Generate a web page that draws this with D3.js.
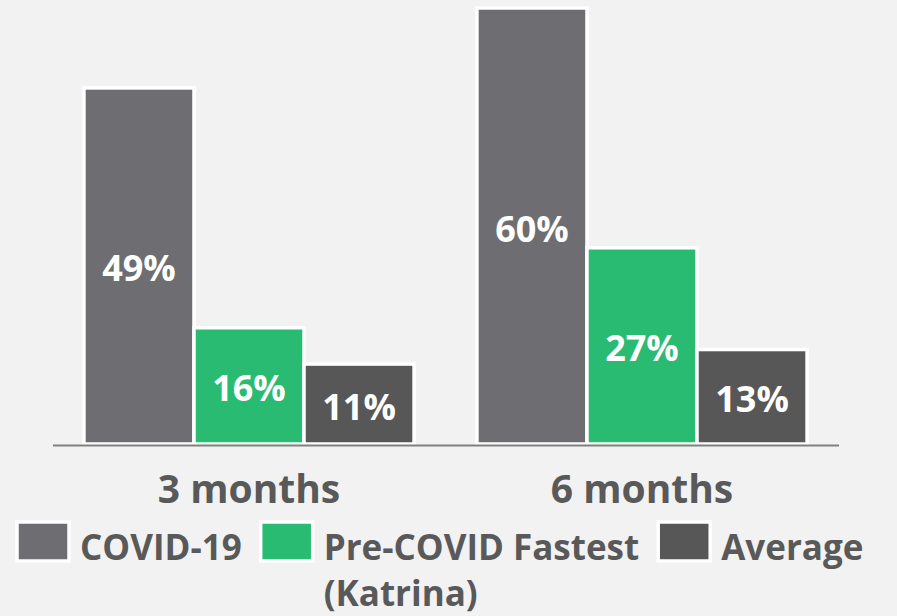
<!DOCTYPE html>
<html>
<head>
<meta charset="utf-8">
<script src="https://cdn.jsdelivr.net/npm/d3@7"></script>
<style>
  html, body { margin: 0; padding: 0; background: #f2f2f2; }
  svg { display: block; }
  text { font-family: "Open Sans", "DejaVu Sans", sans-serif; font-weight: 700; }
</style>
</head>
<body>
<svg id="chart" width="897" height="616"></svg>
<script>
// ---- data ----
const categories = ["3 months", "6 months"];
const seriesNames = ["COVID-19", "Pre-COVID Fastest (Katrina)", "Average"];
const covidValues = [49, 60];
const katrinaValues = [16, 27];
const averageValues = [11, 13];
const seriesColors = ["#6e6e72", "#2abb73", "#575757"];

const seriesValues = [covidValues, katrinaValues, averageValues];

// ---- layout ----
const W = 897, H = 616;
const svg = d3.select("#chart");
svg.append("rect").attr("width", W).attr("height", H).attr("fill", "#f2f2f2");

const baseline = 444;
const y = d3.scaleLinear().domain([0, 60]).range([baseline, 8]);

const x0 = d3.scaleBand().domain(categories).range([52.5, 838.5])
  .paddingInner(0.16).paddingOuter(0.08);
const x1 = d3.scaleBand().domain(seriesNames).range([0, x0.bandwidth()]).padding(0);

const rows = [];
categories.forEach((c, ci) => {
  seriesNames.forEach((s, si) => {
    rows.push({ cat: c, series: s, si, value: seriesValues[si][ci] });
  });
});

const g = svg.append("g");
g.selectAll("rect.bar").data(rows).join("rect")
  .attr("class", "bar")
  .attr("x", d => x0(d.cat) + x1(d.series))
  .attr("y", d => y(d.value))
  .attr("width", x1.bandwidth())
  .attr("height", d => baseline - y(d.value))
  .attr("fill", d => seriesColors[d.si])
  .attr("stroke", "#ffffff")
  .attr("stroke-width", 3.5);

g.selectAll("text.val").data(rows).join("text")
  .attr("class", "val")
  .attr("x", d => x0(d.cat) + x1(d.series) + x1.bandwidth() / 2)
  .attr("y", d => (y(d.value) + baseline) / 2 + 2)
  .attr("text-anchor", "middle")
  .attr("dominant-baseline", "central")
  .attr("fill", "#ffffff")
  .attr("font-size", 36)
  .attr("font-weight", d => d.si === 0 ? 600 : 700)
  .text(d => d.value + "%");

// x axis
const xAxis = d3.axisBottom(x0).tickSize(0).tickPadding(0);
const ax = svg.append("g").attr("transform", `translate(0,${baseline + 1})`).call(xAxis);
ax.select(".domain").attr("stroke", "#808080").attr("stroke-width", 2);
ax.selectAll(".tick text")
  .attr("dy", null)
  .attr("y", 58)
  .attr("fill", "#595959")
  .attr("font-size", 39)
  .attr("font-weight", 700)
  .attr("font-family", "'Open Sans', sans-serif");

// legend
const legend = svg.append("g");
let lx = 17;
const swW = 52, swH = 39, swY = 522;
const textBase = 560, lineH = 46, maxTextW = 340;
seriesNames.forEach((name, i) => {
  legend.append("rect")
    .attr("x", lx).attr("y", swY).attr("width", swW).attr("height", swH)
    .attr("fill", seriesColors[i]).attr("stroke", "#ffffff").attr("stroke-width", 3.5);
  const tx = lx + swW + 11;
  const t = legend.append("text")
    .attr("x", tx).attr("y", textBase)
    .attr("fill", "#595959").attr("font-size", 35);
  // simple word wrap
  const words = name.split(" ");
  let line = [];
  let lineNo = 0;
  let tspan = t.append("tspan").attr("x", tx).attr("y", textBase);
  let maxW = 0;
  words.forEach(w => {
    line.push(w);
    tspan.text(line.join(" "));
    if (tspan.node().getComputedTextLength() > maxTextW && line.length > 1) {
      line.pop();
      tspan.text(line.join(" "));
      maxW = Math.max(maxW, tspan.node().getComputedTextLength());
      line = [w];
      lineNo++;
      tspan = t.append("tspan").attr("x", tx).attr("y", textBase + lineNo * lineH).text(w);
    }
  });
  maxW = Math.max(maxW, tspan.node().getComputedTextLength());
  lx = tx + maxW + 19;
});
</script>
</body>
</html>
